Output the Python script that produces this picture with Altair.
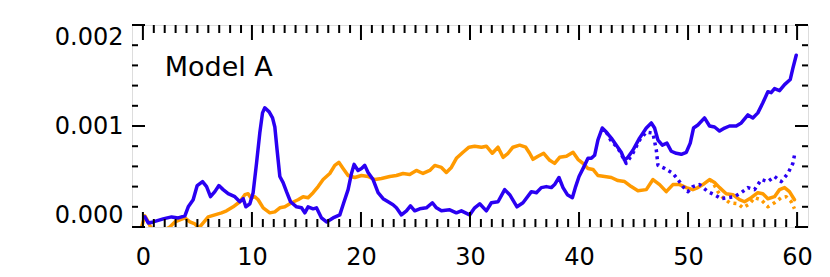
import altair as alt
import pandas as pd

# ---------------- data ----------------
blue_x = [0.18, 0.49, 0.95, 1.86, 2.63, 3.24, 3.85, 4.16, 4.61, 4.98, 5.47, 5.84, 6.2, 6.6, 6.97,
          7.36, 7.82, 8.43, 8.89, 9.2, 9.44, 9.81, 10.11, 10.42, 10.72, 10.97, 11.18, 11.58, 11.89,
          12.1, 12.31, 12.56, 12.86, 13.17, 13.54, 14.09, 14.55, 14.85, 15.15, 15.61, 15.92, 16.38,
          16.84, 17.44, 18.06, 18.42, 18.82, 19.13, 19.37, 19.73, 20.05, 20.35, 20.65, 21.11, 21.57,
          22.03, 22.49, 22.94, 23.25, 23.71, 24.17, 24.54, 24.93, 25.39, 26.0, 26.55, 26.92, 27.38,
          28.14, 28.75, 29.21, 29.97, 30.43, 30.89, 31.5, 31.96, 32.57, 33.18, 33.64, 34.31, 34.86,
          35.63, 36.09, 36.54, 37.0, 37.46, 37.76, 38.16, 38.53, 38.93, 39.39, 39.69, 40.0, 40.42,
          40.82, 41.13, 41.43, 41.73, 42.13, 42.5, 42.96, 43.42, 43.87, 44.18, 44.48, 44.94, 45.55,
          46.17, 46.63, 46.93, 47.24, 47.64, 48.06, 48.46, 48.92, 49.38, 49.84, 50.2, 50.5, 50.9,
          51.51, 51.97, 52.43, 52.89, 53.35, 53.8, 54.42, 54.88, 55.49, 55.94, 56.4, 56.86, 57.32,
          57.62, 57.93, 58.39, 58.85, 59.37, 59.61, 59.92]
blue_y = [0.00010, 0.00004, 0.00005, 0.00008, 0.00010, 0.00009, 0.00011, 0.00020, 0.00027, 0.00041,
          0.00045, 0.00040, 0.00030, 0.00035, 0.00041, 0.00037, 0.00033, 0.00030, 0.00025, 0.00028,
          0.00020, 0.00023, 0.00034, 0.00063, 0.00093, 0.00113, 0.00118, 0.00114, 0.00108, 0.00099,
          0.00076, 0.00050, 0.00044, 0.00035, 0.00025, 0.00020, 0.00019, 0.00014, 0.00020, 0.00018,
          0.00019, 0.00009, 0.00005, 0.00009, 0.00012, 0.00024, 0.00037, 0.00053, 0.00062, 0.00056,
          0.00058, 0.00061, 0.00054, 0.00047, 0.00034, 0.00028, 0.00025, 0.00022, 0.00019, 0.00012,
          0.00016, 0.00021, 0.00016, 0.00018, 0.00019, 0.00024, 0.00019, 0.00016, 0.00017, 0.00014,
          0.00016, 0.00012, 0.00019, 0.00023, 0.00016, 0.00024, 0.00025, 0.00037, 0.00032, 0.00020,
          0.00024, 0.00035, 0.00034, 0.00039, 0.00040, 0.00039, 0.00042, 0.00049, 0.00039, 0.00032,
          0.00029, 0.00040, 0.00050, 0.00059, 0.00068, 0.00068, 0.00071, 0.00086, 0.00098, 0.00094,
          0.00088, 0.00081, 0.00074, 0.00066, 0.00069, 0.00076, 0.00088, 0.00098, 0.00103, 0.00098,
          0.00086, 0.00081, 0.00083, 0.00075, 0.00073, 0.00072, 0.00074, 0.00083, 0.00098, 0.00101,
          0.00108, 0.00100, 0.00099, 0.00095, 0.00098, 0.00100, 0.00100, 0.00103, 0.00111, 0.00108,
          0.00113, 0.00123, 0.00134, 0.00133, 0.00137, 0.00135, 0.00141, 0.00146, 0.00157, 0.00170]

blue_dot_x = [42.5, 42.9, 43.57, 44.33, 44.94, 45.55, 46.17, 46.78, 47.09, 47.24, 47.85, 48.61,
              49.07, 49.53, 49.98, 50.44, 51.05, 51.82, 52.43, 53.04, 53.65, 54.26, 54.88, 55.49,
              56.1, 56.71, 57.32, 57.93, 58.54, 59.15, 59.61, 59.76]
blue_dot_y = [0.00094, 0.00086, 0.00078, 0.00063, 0.00073, 0.00086, 0.00094, 0.00093, 0.00076,
              0.00061, 0.00058, 0.00053, 0.00047, 0.00040, 0.00035, 0.00040, 0.00042, 0.00035,
              0.00032, 0.00028, 0.00029, 0.00030, 0.00034, 0.00039, 0.00037, 0.00047, 0.00045,
              0.00050, 0.00045, 0.00053, 0.00063, 0.00071]

orange_x = [-0.12, 0.18, 0.49, 0.7, 1.2, 1.8, 2.47, 2.93, 3.39, 3.85, 4.31, 4.77, 5.13, 5.53, 5.99,
            6.6, 7.21, 7.67, 8.28, 8.89, 9.35, 9.65, 9.9, 10.27, 10.57, 11.03, 11.64, 12.1, 12.56,
            13.02, 13.63, 14.23, 14.69, 15.15, 15.61, 16.07, 16.53, 17.14, 17.6, 17.97, 18.36, 18.82,
            19.43, 20.05, 20.65, 21.27, 21.88, 22.64, 23.25, 23.86, 24.47, 25.08, 25.69, 26.31, 26.77,
            27.38, 27.83, 28.29, 28.75, 29.36, 29.91, 30.43, 31.05, 31.5, 32.05, 32.57, 33.03, 33.49,
            33.94, 34.56, 35.11, 35.47, 35.78, 36.24, 36.76, 37.31, 37.76, 38.22, 38.84, 39.45, 39.9,
            40.36, 40.82, 41.28, 41.73, 42.35, 42.96, 43.57, 44.18, 44.79, 45.4, 46.17, 46.78, 47.39,
            48.0, 48.61, 49.22, 49.84, 50.44, 50.9, 51.36, 51.97, 52.43, 52.89, 53.5, 54.11, 54.72,
            55.18, 55.79, 56.4, 56.86, 57.32, 57.93, 58.39, 58.85, 59.3, 59.76]
orange_y = [0.0, 0.00011, 0.00005, 0.0, -0.00005, -0.00004, 0.0, 0.00005, 0.00007, 0.00009, 0.00005,
            0.00003, -0.00001, 0.00004, 0.00010, 0.00012, 0.00014, 0.00016, 0.00020, 0.00025, 0.00032,
            0.00033, 0.00029, 0.00030, 0.00027, 0.00019, 0.00014, 0.00015, 0.00019, 0.00020, 0.00024,
            0.00027, 0.00030, 0.00029, 0.00034, 0.00040, 0.00047, 0.00053, 0.00061, 0.00064, 0.00058,
            0.00051, 0.00049, 0.00051, 0.00050, 0.00047, 0.00048, 0.00050, 0.00051, 0.00053, 0.00052,
            0.00056, 0.00053, 0.00056, 0.00061, 0.00059, 0.00054, 0.00059, 0.00068, 0.00074, 0.00079,
            0.00080, 0.00079, 0.00080, 0.00073, 0.00079, 0.00069, 0.00073, 0.00079, 0.00081, 0.00079,
            0.00073, 0.00067, 0.00070, 0.00073, 0.00066, 0.00063, 0.00069, 0.00070, 0.00074, 0.00067,
            0.00063, 0.00058, 0.00057, 0.00051, 0.00050, 0.00049, 0.00046, 0.00045, 0.00040, 0.00036,
            0.00037, 0.00047, 0.00042, 0.00035, 0.00042, 0.00042, 0.00039, 0.00037, 0.00039, 0.00042,
            0.00047, 0.00044, 0.00039, 0.00033, 0.00032, 0.00027, 0.00025, 0.00029, 0.00034, 0.00033,
            0.00028, 0.00030, 0.00037, 0.00039, 0.00035, 0.00027]

orange_dot_x = [51.97, 52.28, 52.74, 53.2, 53.8, 54.57, 55.03, 55.64, 56.1, 56.71, 57.32, 57.93,
                58.54, 59.0, 59.46, 59.76]
orange_dot_y = [0.00047, 0.00044, 0.00035, 0.00029, 0.00024, 0.00023, 0.00019, 0.00023, 0.00029,
                0.00027, 0.00020, 0.00024, 0.00029, 0.00030, 0.00025, 0.00018]

x_major = [0, 10, 20, 30, 40, 50, 60]
x_minor = [v for v in range(0, 61) if v % 10 != 0]
y_major = [0.0, 0.001, 0.002]
y_minor = [0.0002, 0.0004, 0.0006, 0.0008, 0.0012, 0.0014, 0.0016, 0.0018]

label_text = ["Model A"]
label_x = [2.0]
label_y = [0.0015]

# ---------------- chart ----------------
W, H = 676, 202
BLUE = "#2A00F2"
ORANGE = "#FF9A00"
FONT = "DejaVu Sans"

xs = alt.Scale(domain=[-1, 61], nice=False, zero=False)
ys = alt.Scale(domain=[0, 0.002], nice=False, zero=False)

x_axis = alt.Axis(values=x_major, format="d", ticks=False, tickSize=0, domain=False, grid=False,
                  labelFontSize=24, labelFont=FONT, labelColor="black", labelPadding=18,
                  labelFlush=False, title=None)
y_axis = alt.Axis(values=y_major, format=".3f", ticks=False, tickSize=0, domain=False, grid=False,
                  labelFontSize=24, labelFont=FONT, labelColor="black", labelPadding=9,
                  labelFlush=True, labelFlushOffset=0, title=None)

X = lambda f: alt.X(f, scale=xs, axis=x_axis, title=None)
Y = lambda f: alt.Y(f, scale=ys, axis=y_axis, title=None)


def line(xv, yv, color, dash=None):
    df = pd.DataFrame({"x": xv, "y": yv})
    kw = dict(color=color, strokeWidth=3.5, clip=True, strokeJoin="round")
    if dash:
        kw["strokeDash"] = dash
        kw["strokeCap"] = "butt"
    else:
        kw["strokeCap"] = "round"
    return alt.Chart(df).mark_line(**kw).encode(x=X("x:Q"), y=Y("y:Q"))


def xticks(vals, length):
    df = pd.DataFrame({"t": vals})
    base = alt.Chart(df).mark_rule(color="black", strokeWidth=2)
    bottom = base.encode(x=X("t:Q"), y=alt.value(H), y2=alt.value(H - length))
    top = base.encode(x=X("t:Q"), y=alt.value(0), y2=alt.value(length))
    return [bottom, top]


def yticks(vals, length):
    df = pd.DataFrame({"t": vals})
    base = alt.Chart(df).mark_rule(color="black", strokeWidth=2)
    left = base.encode(y=Y("t:Q"), x=alt.value(0), x2=alt.value(length))
    right = base.encode(y=Y("t:Q"), x=alt.value(W), x2=alt.value(W - length))
    return [left, right]


label = alt.Chart(pd.DataFrame({"x": label_x, "y": label_y, "t": label_text})).mark_text(
    align="left", baseline="alphabetic", fontSize=27, font=FONT, color="black"
).encode(x=X("x:Q"), y=Y("y:Q"), text="t:N")

layers = [
    line(orange_x, orange_y, ORANGE),
    line(blue_x, blue_y, BLUE),
    line(orange_dot_x, orange_dot_y, ORANGE, dash=[3, 4]),
    line(blue_dot_x, blue_dot_y, BLUE, dash=[3, 4]),
    *xticks(x_major, 15),
    *xticks(x_minor, 8),
    *yticks(y_major, 13),
    *yticks(y_minor, 6),
    label,
]

chart = alt.layer(*layers).properties(
    width=W,
    height=H,
    autosize=alt.AutoSizeParams(type="none"),
    padding={"left": 124, "top": 17, "right": 12, "bottom": 42},
).configure_view(stroke="black", strokeWidth=2).configure(background="white")

chart.save("out.html", embed_options={"renderer": "svg", "actions": False})
